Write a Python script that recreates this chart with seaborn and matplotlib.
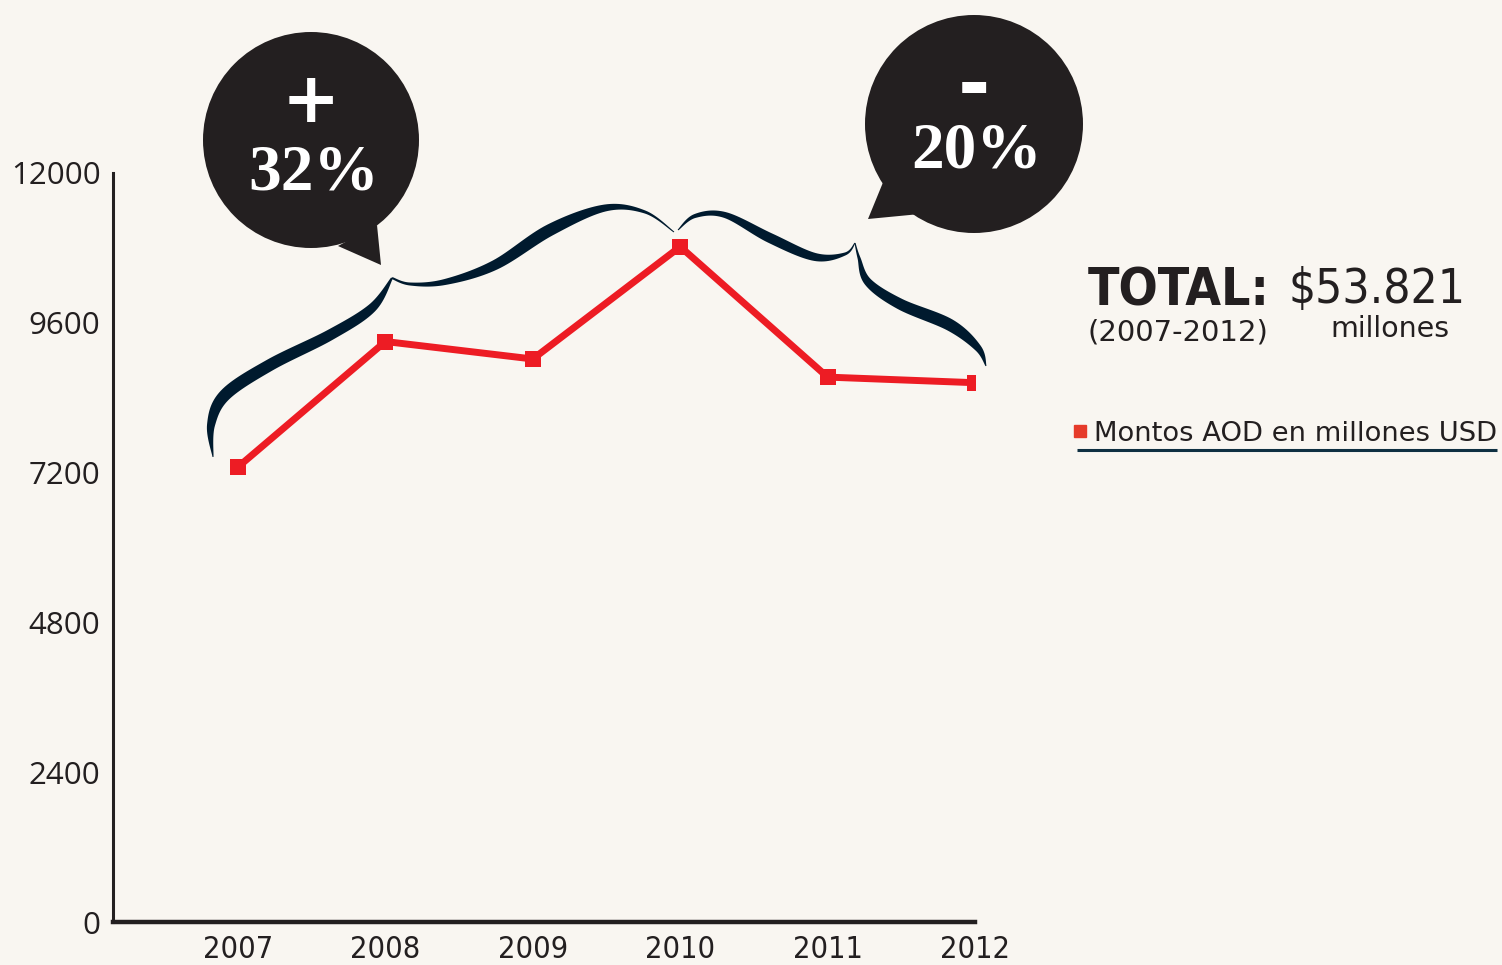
import numpy as np
import matplotlib
matplotlib.use("Agg")
import matplotlib.pyplot as plt
from matplotlib import font_manager
from matplotlib.patches import Circle, Polygon
from matplotlib.lines import Line2D
import seaborn as sns

# data
years = [2007, 2008, 2009, 2010, 2011, 2012]
montos = [7290, 9300, 9020, 10820, 8730, 8640]
y_ticks = [0, 2400, 4800, 7200, 9600, 12000]
serie_label = "Montos AOD en millones USD"

bg = "#f9f6f1"
dark = "#231f20"
navy = "#001a2e"
red = "#ed1c24"

sns.set_theme(style="white", rc={"figure.facecolor": bg, "axes.facecolor": "none"})

names = {f.name for f in font_manager.fontManager.ttflist}
light = "Open Sans" if "Open Sans" in names else "DejaVu Sans"
plt.rcParams["font.family"] = ["DejaVu Sans"]

fig = plt.figure(figsize=(15.02, 9.65), dpi=100)

# overlay in pixel coordinates for the decorations
ov = fig.add_axes([0, 0, 1, 1], zorder=0)
ov.set_xlim(0, 1502)
ov.set_ylim(965, 0)
ov.axis("off")

ax = fig.add_axes([113 / 1502, 43 / 965, 862 / 1502, 749 / 965], zorder=1)
sns.lineplot(x=years, y=montos, ax=ax, color=red, lw=5, marker="s",
             markersize=12, markeredgewidth=0, label=serie_label, legend=False)
ax.set_xlim(2012 - 862 / 147.4, 2012)
ax.set_ylim(0, 12000)
ax.set_xticks(years)
ax.set_yticks(y_ticks)
ax.set_xticklabels([str(y) for y in years], fontsize=22, fontstretch="condensed", color=dark)
ax.set_yticklabels([str(v) for v in y_ticks], fontsize=22.5, family=light, color=dark)
ax.tick_params(axis="y", direction="in", length=14, width=2, pad=9, colors=dark)
ax.tick_params(axis="x", direction="in", length=11, width=1.3, pad=9, colors=dark)
for lab in ax.get_yticklabels() + ax.get_xticklabels():
    lab.set_color(dark)
sns.despine(ax=ax)
ax.spines["left"].set_linewidth(2.2)
ax.spines["bottom"].set_linewidth(3.2)
ax.spines["left"].set_color(dark)
ax.spines["bottom"].set_color(dark)
ax.set_xlabel("")
ax.set_ylabel("")


def tapered(pts, color):
    P = np.array(pts, float)
    P = np.vstack([P[0], P, P[-1]])
    out = []
    for i in range(1, len(P) - 2):
        p0, p1, p2, p3 = P[i - 1], P[i], P[i + 1], P[i + 2]
        t = np.linspace(0, 1, 16, endpoint=False)[:, None]
        seg = 0.5 * (2 * p1 + (-p0 + p2) * t + (2 * p0 - 5 * p1 + 4 * p2 - p3) * t ** 2
                     + (-p0 + 3 * p1 - 3 * p2 + p3) * t ** 3)
        out.append(seg)
    out.append(P[-2][None])
    C = np.vstack(out)
    xy, w = C[:, :2], C[:, 2]
    d = np.gradient(xy, axis=0)
    nrm = np.hypot(d[:, 0], d[:, 1])[:, None]
    n = np.column_stack([-d[:, 1], d[:, 0]]) / nrm
    left = xy + n * w[:, None] / 2
    right = xy - n * w[:, None] / 2
    ov.add_patch(Polygon(np.vstack([left, right[::-1]]), closed=True, color=color, lw=0))


# braces
tapered([(213, 457, 1), (211, 425, 8), (225, 395, 12), (270, 365, 12), (330, 335, 11),
         (372, 308, 9), (392, 278, 2)], navy)
tapered([(392, 278, 2), (410, 284, 3), (445, 282, 6), (495, 265, 10), (550, 230, 12),
         (605, 208, 7), (645, 212, 3), (674, 232, 1)], navy)
tapered([(678, 230, 1), (695, 216, 4), (725, 215, 6), (770, 238, 10), (815, 257, 8),
         (845, 254, 3), (855, 243, 1)], navy)
tapered([(855, 243, 1), (859, 258, 3), (868, 282, 8), (900, 304, 11), (950, 325, 12),
         (978, 348, 7), (986, 366, 1)], navy)

# bubbles
ov.add_patch(Circle((311, 140), 108, color=dark, lw=0))
ov.add_patch(Polygon([(338, 246), (377, 225), (381, 265)], closed=True, color=dark, lw=0))
ov.add_patch(Circle((974, 124), 109, color=dark, lw=0))
ov.add_patch(Polygon([(884, 180), (920, 214), (868, 219)], closed=True, color=dark, lw=0))
ov.text(311, 103, "+", ha="center", va="center", fontsize=50, fontweight="heavy",
        color="white", family="DejaVu Sans")
ov.text(314, 190, "32%", ha="center", va="baseline", fontsize=47, fontweight="bold",
        color="white", family="Liberation Serif")
ov.text(974, 88, "-", ha="center", va="center", fontsize=56, fontweight="heavy",
        color="white", family="DejaVu Sans")
ov.text(977, 168, "20%", ha="center", va="baseline", fontsize=47, fontweight="bold",
        color="white", family="Liberation Serif")

# total block
t_total = ov.text(1088, 305, "TOTAL:", ha="left", va="baseline", fontsize=40,
                  fontweight="bold", fontstretch="condensed", color=dark)
t_amount = ov.text(1288, 303, "$53.821", ha="left", va="baseline", fontsize=40,
                   fontstretch="condensed", color=dark)
ov.text(1088, 341, "(2007-2012)", ha="left", va="baseline", fontsize=21, color=dark)
ov.text(1330, 337, "millones", ha="left", va="baseline", fontsize=20.5, color=dark)

# fit the big texts to the widths they take in the reference
renderer = fig.canvas.get_renderer()
for txt, target in [(t_total, 182), (t_amount, 177)]:
    w = txt.get_window_extent(renderer).width
    txt.set_fontsize(txt.get_fontsize() * target / w)

# legend
handle = Line2D([], [], marker="s", color="#e63b2a", linestyle="none", markersize=9)
leg = fig.legend([handle], [serie_label], loc="lower left",
                 bbox_to_anchor=(1072 / 1502, (965 - 447) / 965), frameon=False,
                 handlelength=0.6, handletextpad=0.2, borderpad=0, borderaxespad=0,
                 prop={"size": 19.7, "family": "DejaVu Sans"})
for t in leg.get_texts():
    t.set_color(dark)
ov.plot([1077, 1497], [450, 450], color="#0f3042", lw=2.2, solid_capstyle="butt")

fig.savefig("out.png", dpi=100, facecolor=bg)
